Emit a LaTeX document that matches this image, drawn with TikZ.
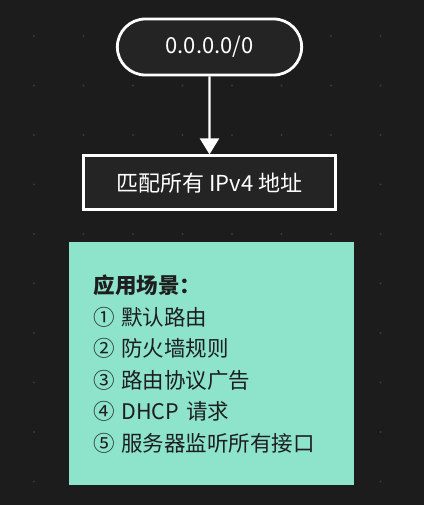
\documentclass[tikz,border=0pt]{standalone}
\usepackage{fontspec}
\setmainfont{Noto Sans CJK SC}
\usetikzlibrary{positioning,shapes.misc,arrows.meta}
\definecolor{bgdark}{HTML}{1C1C1C}
\definecolor{nodedark}{HTML}{242424}
\definecolor{dotgrey}{HTML}{3A3A3A}
\definecolor{notemint}{HTML}{8DE4CB}
\definecolor{notetext}{HTML}{1E1E1E}

\begin{document}
\begin{tikzpicture}[
  x=1pt, y=-1pt,
  ->,>={Triangle[width=19pt,length=16pt]}, % arrow tip of the connector
  node distance=78pt, % space between the two boxes
  cidr node/.style={rounded rectangle,draw=white,line width=2.8pt,fill=nodedark,text=white,
    minimum width=191pt,minimum height=56pt,font=\fontsize{22}{26}\selectfont}, % the pill on top
  match node/.style={rectangle,draw=white,line width=2.8pt,fill=nodedark,text=white,
    minimum width=252pt,minimum height=54pt,font=\fontsize{22}{26}\selectfont}, % the plain box
  note node/.style={rectangle,fill=notemint,text=notetext,align=left,text width=235pt,
    inner xsep=25pt,minimum height=243pt,font=\fontsize{21.5}{31.5}\selectfont} % the sticky note
  ]

  \useasboundingbox[fill=bgdark] (0,0) rectangle (424,505);
  \foreach \i in {0,...,7}
    \foreach \j in {0,...,9}
      \fill[dotgrey] (34+49.5*\i,36+49.5*\j) circle (1.1pt);

  \node[cidr node] (cidr) at (209.5,47) {0.0.0.0/0};
  \node[match node] (match) [below=of cidr] {匹配所有 IPv4 地址};
  \node[note node] (usage) [below=31pt of match, xshift=1.5pt] {%
    \textbf{应用场景：}\\
    ①\hspace{0.3em}默认路由\\
    ②\hspace{0.3em}防火墙规则\\
    ③\hspace{0.3em}路由协议广告\\
    ④\hspace{0.3em}DHCP 请求\\
    ⑤\hspace{0.3em}服务器监听所有接口};

  \draw[white,line width=2.2pt] (cidr) -- (match);
\end{tikzpicture}
\end{document}
